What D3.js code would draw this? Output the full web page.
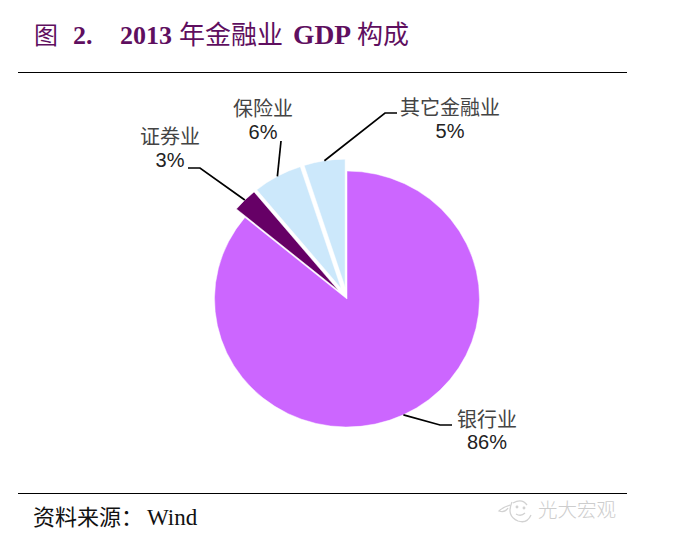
<!DOCTYPE html>
<html>
<head>
<meta charset="utf-8">
<script src="https://cdn.jsdelivr.net/npm/d3@7"></script>
<style>
html, body { margin: 0; padding: 0; background: #fff; }
svg { display: block; }
</style>
</head>
<body>
<svg id="chart" width="686" height="545"></svg>
<script>
var categories = ["银行业", "证券业", "保险业", "其它金融业"];
var shares = [86, 3, 6, 5];
var sliceColors = ["#CC66FF", "#660066", "#CCE8FB", "#CCE8FB"];

var svg = d3.select("#chart");
var serif = "'Liberation Serif', 'Noto Sans CJK SC', serif";
var sans = "'Liberation Sans', 'Noto Sans CJK SC', sans-serif";
var cjk = "'Noto Sans CJK SC', sans-serif";

// picture is slightly squashed vertically, so the pie is drawn at rx and scaled
var cx = 347, cy = 299, rx = 132.5, ry = 128;
var explode = 12;

var pie = d3.pie().value(function (d) { return d.share; }).sort(null);
var arc = d3.arc().innerRadius(0).outerRadius(rx);

var pieData = pie(categories.map(function (c, i) {
    return { name: c, share: shares[i], color: sliceColors[i] };
}));

// label placement: elbow and end of the leader, label centre and baselines
var labelLayout = [
    { elbow: [440, 425], end: [452, 425], x: 487, y1: 427, y2: 449 },
    { elbow: [200, 168], end: [188, 168], x: 170, y1: 144, y2: 167 },
    { elbow: [281, 141], end: [281, 141], x: 263, y1: 116, y2: 139 },
    { elbow: [385, 113], end: [397, 113], x: 450, y1: 115, y2: 138 }
];

function midAngle(d) { return (d.startAngle + d.endAngle) / 2; }
function offset(d, i) {
    var e = i === 0 ? 0 : explode;
    return [Math.sin(midAngle(d)) * e, -Math.cos(midAngle(d)) * e];
}

svg.append("g")
    .attr("transform", "translate(" + cx + "," + cy + ") scale(1," + (ry / rx) + ")")
    .selectAll("path")
    .data(pieData)
    .enter()
    .append("path")
    .attr("d", arc)
    .attr("transform", function (d, i) {
        var o = offset(d, i);
        return "translate(" + o[0] + "," + o[1] * rx / ry + ")";
    })
    .style("fill", function (d) { return d.data.color; })
    .style("stroke", "#fff")
    .attr("stroke-width", 0.5);

// leader lines start on the rim of each slice
var line = d3.line();
svg.append("g")
    .selectAll("path")
    .data(pieData)
    .enter()
    .append("path")
    .attr("d", function (d, i) {
        var o = offset(d, i), l = labelLayout[i];
        var start = [
            cx + Math.sin(midAngle(d)) * rx + o[0],
            cy - Math.cos(midAngle(d)) * ry + o[1]
        ];
        return line([start, l.elbow, l.end]);
    })
    .style("fill", "none")
    .style("stroke", "#000")
    .attr("stroke-width", 1.7);

var labels = svg.append("g")
    .selectAll("g")
    .data(pieData)
    .enter()
    .append("g");

labels.append("text")
    .attr("x", function (d, i) { return labelLayout[i].x; })
    .attr("y", function (d, i) { return labelLayout[i].y1; })
    .attr("text-anchor", "middle")
    .attr("font-family", cjk)
    .attr("font-size", 20)
    .style("fill", "#444")
    .text(function (d) { return d.data.name; });

labels.append("text")
    .attr("x", function (d, i) { return labelLayout[i].x; })
    .attr("y", function (d, i) { return labelLayout[i].y2; })
    .attr("text-anchor", "middle")
    .attr("font-family", sans)
    .attr("font-size", 20)
    .style("fill", "#222")
    .text(function (d) { return d.data.share + "%"; });

// title, pieces placed one by one because of the wide gaps
var title = svg.append("text")
    .attr("y", 44)
    .style("fill", "#5F0F5F");
title.append("tspan").attr("x", 34).attr("font-family", cjk).attr("font-size", 24).text("图");
title.append("tspan").attr("x", 73).attr("font-family", serif).attr("font-size", 26).attr("font-weight", "bold").text("2.");
title.append("tspan").attr("x", 120).attr("font-family", serif).attr("font-size", 26).attr("font-weight", "bold").text("2013");
title.append("tspan").attr("x", 179).attr("font-family", cjk).attr("font-size", 26).text("年金融业");
title.append("tspan").attr("x", 293).attr("font-family", serif).attr("font-size", 27.5).attr("font-weight", "bold").text("GDP");
title.append("tspan").attr("x", 357).attr("font-family", cjk).attr("font-size", 26).text("构成");

svg.selectAll("line.rule")
    .data([72.5, 493.5])
    .enter()
    .append("line")
    .attr("class", "rule")
    .attr("x1", 18)
    .attr("x2", 627)
    .attr("y1", function (d) { return d; })
    .attr("y2", function (d) { return d; })
    .style("stroke", "#000")
    .attr("stroke-width", 1.2);

var source = svg.append("text")
    .attr("y", 525)
    .style("fill", "#111");
source.append("tspan").attr("x", 33).attr("font-family", cjk).attr("font-size", 22).text("资料来源：");
source.append("tspan").attr("x", 147).attr("font-family", serif).attr("font-size", 23).text("Wind");

// watermark
svg.append("text")
    .attr("x", 538)
    .attr("y", 517)
    .attr("font-family", cjk)
    .attr("font-size", 19.5)
    .attr("font-weight", 300)
    .style("fill", "#cdcdcd")
    .text("光大宏观");

var mark = svg.append("g").style("fill", "none").style("stroke", "#d2d2d2").attr("stroke-width", 1.3);
mark.append("path").attr("d", "M510,505 Q503,507 499,511 Q505,513 508,508");
mark.append("path").attr("d", "M512,502 Q506,516 518,521 Q527,524 531,515");
mark.append("path").attr("d", "M513,503 Q522,498 527,505");
mark.append("path").attr("d", "M516,514 Q521,517 525,513");
mark.append("circle").attr("cx", 517).attr("cy", 507).attr("r", 0.8);
mark.append("circle").attr("cx", 524).attr("cy", 508).attr("r", 0.8);
</script>
</body>
</html>
